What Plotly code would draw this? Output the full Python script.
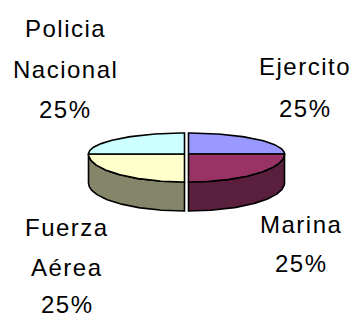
import numpy as np
import plotly.graph_objects as go

# ---- data ----
labels = ["Ejercito", "Marina", "Fuerza Aérea", "Policia Nacional"]
values = [25, 25, 25, 25]
label_lines = [["Ejercito"], ["Marina"], ["Fuerza", "Aérea"], ["Policia", "Nacional"]]
top_colors = ["#9999FF", "#993366", "#FFFFCC", "#CCFFFF"]
side_colors = ["#4D4D80", "#5A1F3D", "#858569", "#668080"]

# ---- geometry (pixel-like data space) ----
W, H = 355, 316
cx, cy = 186.5, 154.0
rx, ry_top, ry_bot = 96.0, 21.0, 28.0
depth = 29.0
explode = 2.0

# label placement (x centre, y centre of each line)
label_pos = {
    "Ejercito": (305, [66, 108]),
    "Marina": (301, [224, 263]),
    "Fuerza Aérea": (67, [227, 267, 304]),
    "Policia Nacional": (65, [28, 69, 109]),
}

total = sum(values)
fracs = [v / total for v in values]


def arc(cxi, a0, a1, n=80):
    th = np.linspace(a0, a1, n)
    ry = np.where(np.cos(th) >= 0, ry_top, ry_bot)
    return cxi + rx * np.sin(th), cy - ry * np.cos(th)


fig = go.Figure()
side_traces, top_traces = [], []
start = 0.0
for lab, f, tc, sc in zip(labels, fracs, top_colors, side_colors):
    a0 = start * 2 * np.pi
    a1 = (start + f) * 2 * np.pi
    mid = (a0 + a1) / 2
    cxi = cx + explode * np.sign(np.round(np.sin(mid), 6))
    # visible side (front half: 90..270 deg)
    s0, s1 = max(a0, np.pi / 2), min(a1, 3 * np.pi / 2)
    if s1 > s0:
        xs, ys = arc(cxi, s0, s1)
        px = np.concatenate([xs, xs[::-1]])
        py = np.concatenate([ys, ys[::-1] + depth])
        side_traces.append(go.Scatter(x=np.append(px, px[0]), y=np.append(py, py[0]),
                                      mode="lines", fill="toself", fillcolor=sc,
                                      line=dict(color="black", width=1.6),
                                      hoverinfo="skip", showlegend=False))
    xs, ys = arc(cxi, a0, a1)
    px = np.concatenate([[cxi], xs, [cxi]])
    py = np.concatenate([[cy], ys, [cy]])
    top_traces.append(go.Scatter(x=px, y=py, mode="lines", fill="toself", fillcolor=tc,
                                 line=dict(color="black", width=1.6),
                                 name=lab, hoverinfo="skip", showlegend=False))
    start += f

for t in side_traces + top_traces:
    fig.add_trace(t)

annotations = []
for lab, lines, v in zip(labels, label_lines, values):
    x0, ys = label_pos[lab]
    texts = lines + [f"{round(v / total * 100)}%"]
    for t, y in zip(texts, ys):
        annotations.append(dict(x=x0, y=y, xref="x", yref="y",
                                text=f'<span style="letter-spacing:1.5px">{t}</span>',
                                showarrow=False, xanchor="center", yanchor="middle",
                                font=dict(family="Arial, Liberation Sans, sans-serif",
                                          size=24, color="black")))

fig.update_layout(
    width=W, height=H,
    margin=dict(l=0, r=0, t=0, b=0),
    paper_bgcolor="white", plot_bgcolor="white",
    xaxis=dict(range=[0, W], visible=False, fixedrange=True),
    yaxis=dict(range=[H, 0], visible=False, fixedrange=True),
    annotations=annotations,
    showlegend=False,
)

fig.write_html("out.html", config={"displayModeBar": False},
               post_script="document.body.style.margin='0';document.body.style.overflow='hidden';")
